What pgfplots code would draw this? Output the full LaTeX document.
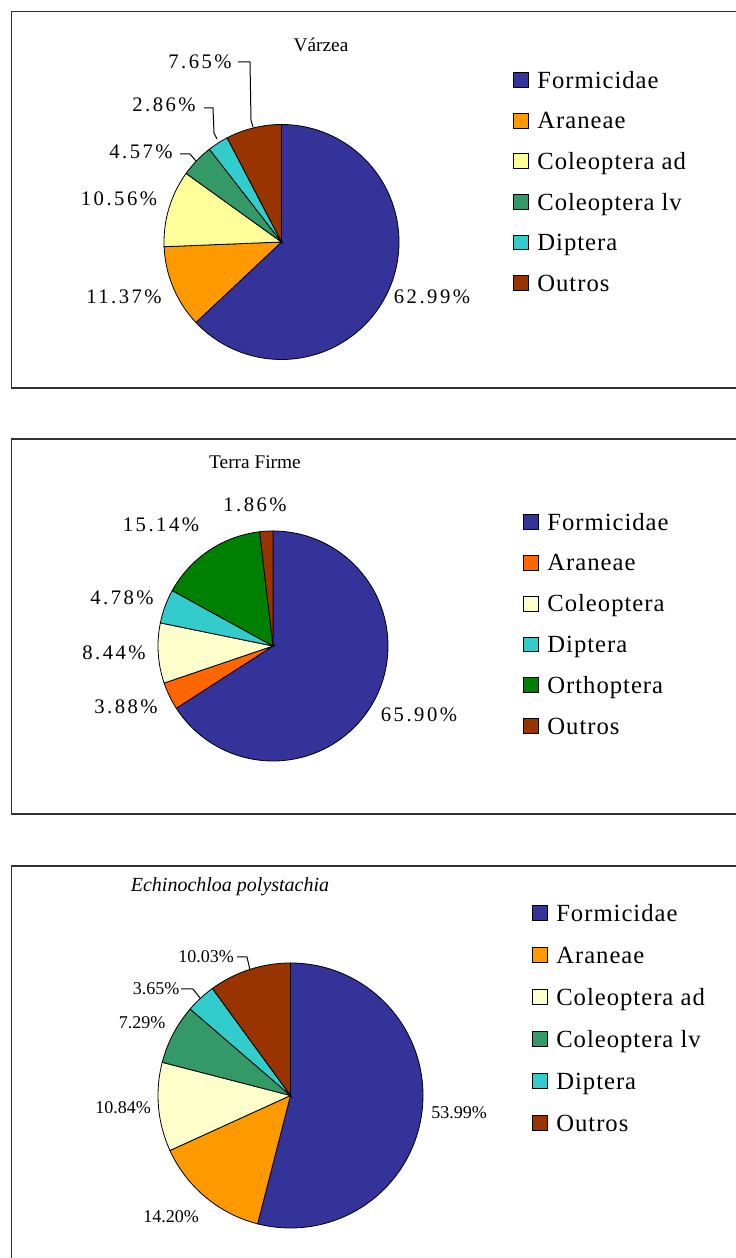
\documentclass[border=0pt]{standalone}
\usepackage{fontspec}
\setmainfont{Liberation Serif}
\newfontfamily\lblfont[LetterSpace=12]{Liberation Serif}
\newfontfamily\legfont[LetterSpace=4]{Liberation Serif}
\usepackage{pgfplots}
\pgfplotsset{compat=1.18}
\definecolor{formi}{RGB}{51,51,153}
\definecolor{aranA}{RGB}{255,153,0}
\definecolor{aranB}{RGB}{255,102,0}
\definecolor{coleA}{RGB}{255,255,153}
\definecolor{coleB}{RGB}{255,255,204}
\definecolor{colelv}{RGB}{51,153,102}
\definecolor{dipt}{RGB}{51,204,204}
\definecolor{ortho}{RGB}{0,128,0}
\definecolor{outros}{RGB}{153,51,0}
% #1 colour, #2 cumulative start (%), #3 share (%), #4 radius
\newcommand{\slice}[4]{\addplot[fill=#1,draw=black,line width=0.6pt] coordinates {(0,0)} -- ++({90-3.6*#2}:#4) arc[start angle={90-3.6*#2}, delta angle={-3.6*#3}, radius=#4] -- cycle;}
\pgfplotsset{pie/.style={hide axis, clip=false, xmin=-1, xmax=1, ymin=-1, ymax=1, anchor=center,
  legend cell align=left,
  legend image code/.code={\draw[##1,draw=black,line width=0.6pt] (0pt,-5.6pt) rectangle (11.2pt,5.6pt);},
  legend style={draw=none, fill=none, inner sep=0pt, outer sep=0pt, anchor=north west,
    column sep=6.5pt, row sep=0pt, font=\legfont\fontsize{18.5}{20}\selectfont}}}
\newcommand{\lblA}{\lblfont\fontsize{15.5}{17}\selectfont}
\newcommand{\lblB}{\fontsize{13.5}{15}\selectfont}
\newcommand{\ttl}{\fontsize{14.5}{16}\selectfont}
\begin{document}
\begin{tikzpicture}[x=0.75pt,y=0.75pt]
\useasboundingbox (0,0) rectangle (736,1258);
% panel frames
\draw[line width=1.1pt, black!80] (11.5,1246.5) rectangle (760,870);
\draw[line width=1.1pt, black!80] (11.5,819) rectangle (760,444);
\draw[line width=1.1pt, black!80] (11.5,392) rectangle (760,-20);

% ---------- Varzea ----------
\begin{axis}[pie, at={(211.125pt,762pt)}, x=88.125pt, y=88.125pt,
  legend style={at={(1.485,1.2757)}, nodes={inner sep=0pt, text height=21.4pt, text depth=9.05pt}},
  legend entries={Formicidae, Araneae, Coleoptera ad, Coleoptera lv, Diptera, Outros}]
\slice{formi}{0}{62.99}{88.125pt}
\slice{aranA}{62.99}{11.37}{88.125pt}
\slice{coleA}{74.36}{10.56}{88.125pt}
\slice{colelv}{84.92}{4.57}{88.125pt}
\slice{dipt}{89.49}{2.86}{88.125pt}
\slice{outros}{92.35}{7.65}{88.125pt}
\end{axis}
\node[font=\ttl, anchor=base] at (321,1206) {Várzea};
\node[font=\lblA] at (200,1196) {7.65\%};
\node[font=\lblA] at (164,1153) {2.86\%};
\node[font=\lblA] at (141,1106) {4.57\%};
\node[font=\lblA] at (119,1059) {10.56\%};
\node[font=\lblA] at (124,961) {11.37\%};
\node[font=\lblA] at (432,961) {62.99\%};
\draw[line width=0.75pt] (238,1196) -- (250,1196) -- (251,1138) -- (253,1131);
\draw[line width=0.75pt] (204,1150) -- (213,1150) -- (214,1125) -- (217,1119);
\draw[line width=0.75pt] (180,1104) -- (190,1104) -- (196,1097);

% ---------- Terra Firme ----------
\begin{axis}[pie, at={(204.75pt,459pt)}, x=86.25pt, y=86.25pt,
  legend style={at={(1.587,1.1278)}, nodes={inner sep=0pt, text height=21.4pt, text depth=9.2pt}},
  legend entries={Formicidae, Araneae, Coleoptera, Diptera, Orthoptera, Outros}]
\slice{formi}{0}{65.90}{86.25pt}
\slice{aranB}{65.90}{3.88}{86.25pt}
\slice{coleB}{69.78}{8.44}{86.25pt}
\slice{dipt}{78.22}{4.78}{86.25pt}
\slice{ortho}{83.00}{15.14}{86.25pt}
\slice{outros}{98.14}{1.86}{86.25pt}
\end{axis}
\node[font=\ttl, anchor=base] at (255,789) {Terra Firme};
\node[font=\lblA] at (255,753) {1.86\%};
\node[font=\lblA] at (161,733) {15.14\%};
\node[font=\lblA] at (122,660) {4.78\%};
\node[font=\lblA] at (114,605) {8.44\%};
\node[font=\lblA] at (126,551) {3.88\%};
\node[font=\lblA] at (419,543) {65.90\%};

% ---------- Echinochloa polystachia ----------
\begin{axis}[pie, at={(217.875pt,121.875pt)}, x=99.375pt, y=99.375pt,
  legend style={at={(1.411,1.268)}, nodes={inner sep=0pt, text height=22pt, text depth=9.5pt}},
  legend entries={Formicidae, Araneae, Coleoptera ad, Coleoptera lv, Diptera, Outros}]
\slice{formi}{0}{53.99}{99.375pt}
\slice{aranA}{53.99}{14.20}{99.375pt}
\slice{coleB}{68.19}{10.84}{99.375pt}
\slice{colelv}{79.03}{7.29}{99.375pt}
\slice{dipt}{86.32}{3.65}{99.375pt}
\slice{outros}{89.97}{10.03}{99.375pt}
\end{axis}
\node[font=\fontsize{15}{17}\selectfont\itshape, anchor=base] at (230,366) {Echinochloa polystachia};
\node[font=\lblB] at (206,301) {10.03\%};
\node[font=\lblB] at (156,269) {3.65\%};
\node[font=\lblB] at (142,235) {7.29\%};
\node[font=\lblB] at (123,150) {10.84\%};
\node[font=\lblB] at (459,145) {53.99\%};
\node[font=\lblB] at (171,41) {14.20\%};
\draw[line width=0.75pt] (237,301) -- (247,301) -- (250,288);
\draw[line width=0.75pt] (181,269) -- (193,269) -- (200,260);
\end{tikzpicture}
\end{document}
